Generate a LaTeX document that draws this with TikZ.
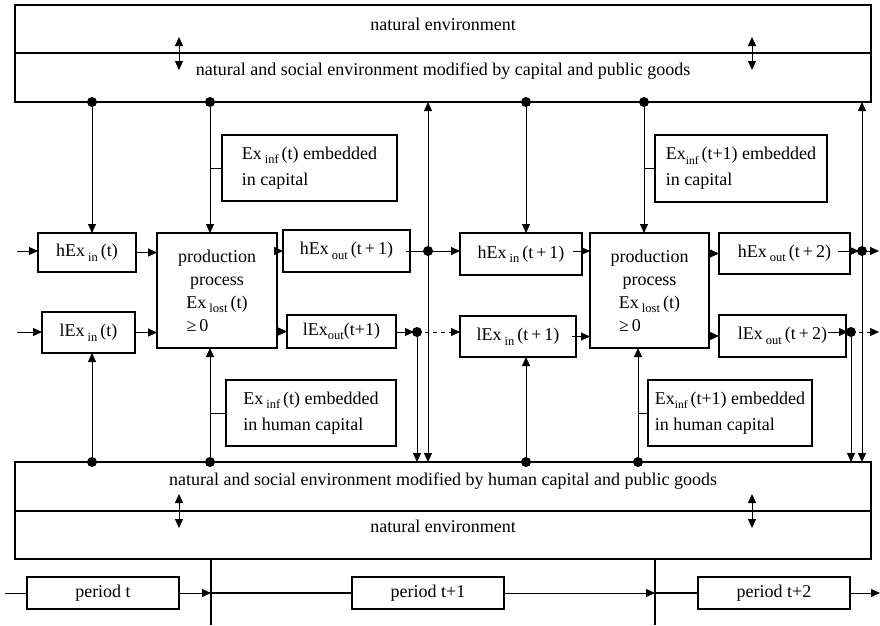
\documentclass[tikz,border=0pt]{standalone}
\usepackage{fontspec}
\setmainfont{Liberation Serif}
\usetikzlibrary{arrows.meta,calc}
\newcommand{\sbs}[1]{\raisebox{-4.5pt}{\fontsize{12.5}{12.5}\selectfont #1}}
\newcommand{\sbt}[1]{\raisebox{-4.5pt}{\fontsize{11.5}{11.5}\selectfont #1}}
\begin{document}
\begin{tikzpicture}[x=1pt,y=-1pt,
  every node/.style={font=\fontsize{18}{22}\selectfont},
  box/.style={draw,line width=1.2pt,inner sep=0pt,outer sep=0pt,anchor=north west},
  bigbox/.style={draw,line width=1.5pt,inner sep=0pt,outer sep=0pt,anchor=north west},
  exbox/.style={box,align=left,font=\fontsize{18}{26}\selectfont},
  prodbox/.style={box,align=center,font=\fontsize{18}{23}\selectfont},
  conn/.style={line width=1pt},
  arr/.style={conn,-{Triangle[length=9pt,width=8pt]}},
  darr/.style={conn,{Triangle[length=9pt,width=8pt]}-{Triangle[length=9pt,width=8pt]}},
  dot/.style={circle,fill,inner sep=0pt,minimum size=10pt},
  lab/.style={anchor=base,inner sep=0pt}
]
\useasboundingbox (0,0) rectangle (880,625);

% environment boxes
\node[bigbox,minimum width=856,minimum height=97] (top) at (15,5) {};
\coordinate (divT) at (0,53);
\draw[line width=1.2pt] (top.west |- divT) -- (top.east |- divT);
\node[lab] (tNat) at (443,30) {natural environment};
\node[lab] (tMod) at (443,75) {natural and social environment modified by capital and public goods};

\node[bigbox,minimum width=856,minimum height=97] (bot) at (15,462) {};
\coordinate (divB) at (0,511);
\draw[line width=1.2pt] (bot.west |- divB) -- (bot.east |- divB);
\node[lab] (bMod) at (443,485) {natural and social environment modified by human capital and public goods};
\node[lab] (bNat) at (443,532) {natural environment};

% double arrows in environment boxes
\coordinate (a1s) at (179,37); \coordinate (a1e) at (179,70);
\coordinate (a2s) at (752,37); \coordinate (a2e) at (752,70);
\coordinate (a3s) at (179,494); \coordinate (a3e) at (179,528);
\coordinate (a4s) at (752,494); \coordinate (a4e) at (752,528);
\draw[darr] (a1s) -- (a1e);
\draw[darr] (a2s) -- (a2e);
\draw[darr] (a3s) -- (a3e);
\draw[darr] (a4s) -- (a4e);

% period t boxes
\node[box,minimum width=98,minimum height=39] (hin1) at (38,233) {hEx\,\sbs{in}\,(t)};
\node[box,minimum width=93,minimum height=41] (lin1) at (42,312) {lEx\,\sbs{in}\,(t)};
\node[prodbox,minimum width=120,minimum height=115] (prod1) at (157,233)
  {production\\process\\Ex\,\sbs{lost}\,(t)\\\makebox[61pt][l]{≥\,0}};
\node[box,minimum width=127,minimum height=42] (hout1) at (283,230) {hEx\,\sbs{out}\,(t\,+\,1)};
\node[box,minimum width=109,minimum height=33] (lout1) at (287,315) {lEx\sbs{out}(t+1)};
\node[exbox,minimum width=175,minimum height=66] (exT1) at (222,135) {Ex\,\sbs{inf}\,(t) embedded\\in capital};
\node[exbox,minimum width=170,minimum height=66] (exB1) at (226,380) {Ex\,\sbs{inf}\,(t) embedded\\in human capital};

% period t+1 boxes
\node[box,minimum width=122,minimum height=42] (hin2) at (460,233) {hEx\,\sbs{in}\,(t\,+\,1)};
\node[box,minimum width=116,minimum height=41] (lin2) at (460,316) {lEx\,\sbs{in}\,(t\,+\,1)};
\node[prodbox,minimum width=119,minimum height=115] (prod2) at (590,233)
  {production\\process\\Ex\,\sbs{lost}\,(t)\\\makebox[61pt][l]{≥\,0}};
\node[box,minimum width=131,minimum height=41] (hout2) at (719,233) {hEx\,\sbs{out}\,(t\,+\,2)};
\node[box,minimum width=127,minimum height=42] (lout2) at (719,315) {lEx\,\sbs{out}\,(t\,+\,2)};
\node[exbox,minimum width=172,minimum height=67] (exT2) at (655,135) {Ex\sbt{inf}\,(t+1) embedded\\in capital};
\node[exbox,minimum width=164,minimum height=66] (exB2) at (648,380) {Ex\sbt{inf}\,(t+1) embedded\\in human capital};

% dots
\node[dot] (dT1) at (92,102) {};
\node[dot] (dT2) at (210,102) {};
\node[dot] (dT3) at (526,102) {};
\node[dot] (dT4) at (644,102) {};
\node[dot] (dB1) at (92,462) {};
\node[dot] (dB2) at (210,462) {};
\node[dot] (dB3) at (526,462) {};
\node[dot] (dB4) at (638,462) {};
\coordinate (dh1) at (428,251);
\coordinate (dl1) at (417,332);
\coordinate (dh2) at (862,251);
\coordinate (dl2) at (851,332);
\coordinate (inH) at (17,251);
\coordinate (inL) at (17,332);
\coordinate (eH) at (879,251);
\coordinate (eL) at (879,332);

% inputs
\draw[arr] (inH) -- (inH -| hin1.west);
\draw[arr] (inL) -- (inL -| lin1.west);
\draw[arr] (dT1) -- (dT1 |- hin1.north);
\draw[arr] (dB1) -- (dB1 |- lin1.south);
\draw[arr] (hin1.east) -- (hin1.east -| prod1.west);
\draw[arr] (lin1.east) -- (lin1.east -| prod1.west);
\draw[arr] (dT2) -- (dT2 |- prod1.north);
\draw[arr] (dB2) -- (dB2 |- prod1.south);
\draw[conn] (dT2 |- exT1.west) -- (exT1.west);
\draw[conn] (dB2 |- exB1.west) -- (exB1.west);
\draw[arr] (prod1.east |- hout1.west) -- (hout1.west);
\draw[arr] (prod1.east |- lout1.west) -- (lout1.west);

% transfer t -> t+1
\draw[darr] (dh1 |- top.south) -- (dh1 |- bot.north);
\draw[arr] (dl1) -- (dl1 |- bot.north);
\draw[conn] ([xshift=-4pt]hout1.east |- dh1) -- (dh1);
\draw[arr] (dh1) -- (dh1 -| hin2.west);
\draw[arr,shorten >=3pt] (lout1.east |- dl1) -- (dl1);
\draw[arr,dashed,dash pattern=on 4pt off 4pt] (dl1) -- (dl1 -| lin2.west);
\node[dot] (dh1n) at (dh1) {};
\node[dot] (dl1n) at (dl1) {};

% period t+1
\draw[arr] (dT3) -- (dT3 |- hin2.north);
\draw[arr] (dB3) -- (dB3 |- lin2.south);
\draw[arr] ([xshift=-9pt]hin2.east |- dh1) -- (dh1 -| prod2.west);
\draw[arr] ([xshift=-4pt]lin2.east) -- (lin2.east -| prod2.west);
\draw[arr] (dT4) -- (dT4 |- prod2.north);
\draw[arr] (dB4) -- (dB4 |- prod2.south);
\draw[conn] (dT4 |- exT2.west) -- (exT2.west);
\draw[conn] (dB4 |- exB2.west) -- (exB2.west);
\draw[arr] (prod2.east |- hout2.west) -- (hout2.west);
\draw[arr] (prod2.east |- lout2.west) -- (lout2.west);

% transfer t+1 -> t+2
\draw[darr] (dh2 |- top.south) -- (dh2 |- bot.north);
\draw[arr] (dl2) -- (dl2 |- bot.north);
\draw[arr,shorten >=3pt] ([xshift=-12pt]hout2.east |- dh2) -- (dh2);
\draw[arr] (dh2) -- (eH);
\draw[arr,shorten >=3pt] ([xshift=-18pt]lout2.east |- dl2) -- (dl2);
\draw[arr,dashed,dash pattern=on 4pt off 4pt] (dl2) -- (eL);
\node[dot] (dh2n) at (dh2) {};
\node[dot] (dl2n) at (dl2) {};

% period row
\node[box,minimum width=152,minimum height=32] (p1) at (27,577) {period t};
\node[box,minimum width=152,minimum height=32] (p2) at (352,577) {period t+1};
\node[box,minimum width=152,minimum height=32] (p3) at (698,577) {period t+2};
\coordinate (v1t) at (211,559); \coordinate (v1b) at (211,625);
\coordinate (v2t) at (655,559); \coordinate (v2b) at (655,625);
\coordinate (pin) at (5,593);
\coordinate (pout) at (880,593);
\draw[line width=1.5pt] (v1t) -- (v1b);
\draw[line width=1.5pt] (v2t) -- (v2b);
\draw[conn] (pin) -- (pin -| p1.west);
\draw[arr] (p1.east) -- (p1.east -| v1t);
\draw[line width=1.3pt] (p1.east -| v1t) -- (p2.west);
\draw[arr] (p2.east) -- (p2.east -| v2t);
\draw[line width=1.3pt] (p3.west -| v2t) -- (p3.west);
\draw[arr] (p3.east) -- (pout);
\end{tikzpicture}
\end{document}
